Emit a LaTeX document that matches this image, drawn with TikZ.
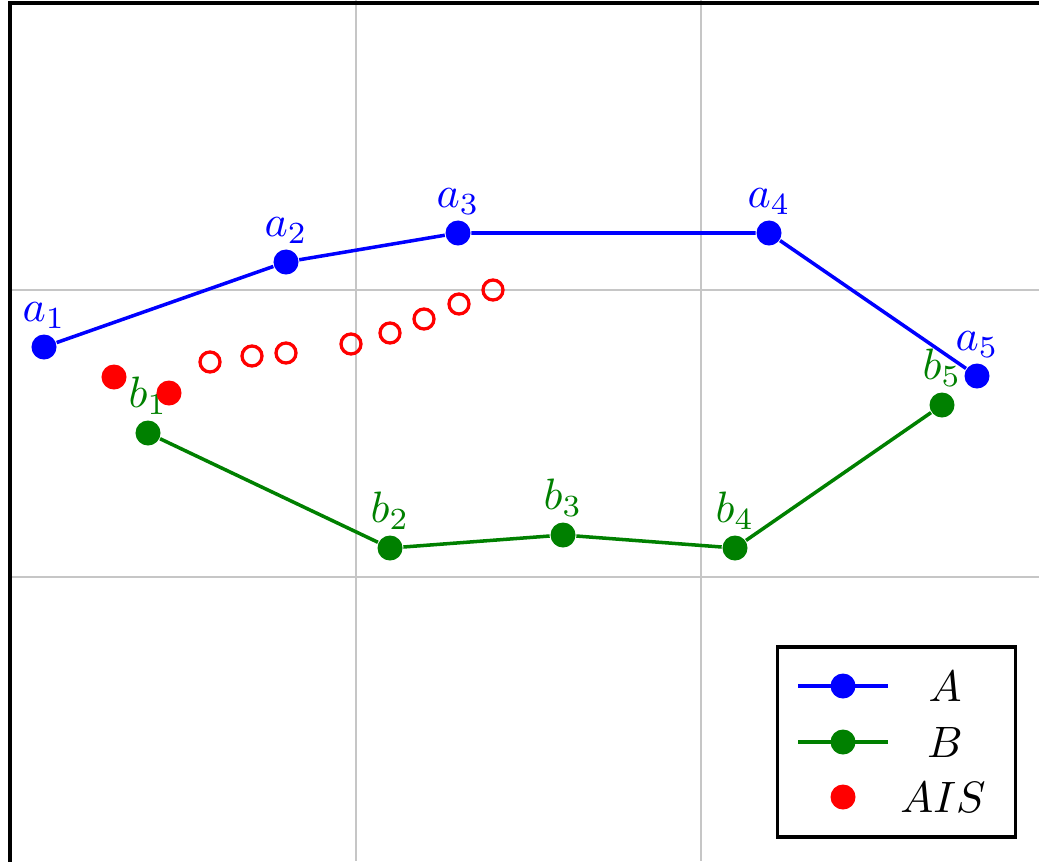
\documentclass[tikz,border=0pt]{standalone}
\usetikzlibrary{positioning}

\begin{document}
\begin{tikzpicture}[x=0.008cm,y=-0.008cm, every node/.style={font=\normalsize},
  adot/.style={circle,fill=blue,inner sep=0pt,minimum size=2mm,label={[blue,inner sep=1pt]above:#1}},
  bdot/.style={circle,fill=green!50!black,inner sep=0pt,minimum size=2mm,label={[green!50!black,inner sep=1pt]above:#1}},
  ais/.style={circle,fill=red,inner sep=0pt,minimum size=2mm},
  aisopen/.style={circle,draw=red,line width=0.75pt,inner sep=0pt,minimum size=1.6mm},
  gridline/.style={gray!45,line width=0.45pt}]
\useasboundingbox (0,0) rectangle (1039,861);
\clip (0,0) rectangle (1039,861);
% grid and frame
\draw[gridline] (356,0) -- (356,861) (701,0) -- (701,861);
\draw[gridline] (10,290) -- (1039,290) (10,577) -- (1039,577);
\draw[line width=0.9pt] (10,870) -- (10,3) -- (1045,3);
% route A
\node[adot={$a_1$}] (a1) at (44,347) {};
\node[adot={$a_2$}] (a2) at (286,262) {};
\node[adot={$a_3$}] (a3) at (458,233) {};
\node[adot={$a_4$}] (a4) at (769,233) {};
\node[adot={$a_5$}] (a5) at (977,376) {};
\draw[blue,line width=0.8pt] (a1)--(a2)--(a3)--(a4)--(a5);
% route B
\node[bdot={$b_1$}] (b1) at (148,433) {};
\node[bdot={$b_2$}] (b2) at (390,548) {};
\node[bdot={$b_3$}] (b3) at (563,535) {};
\node[bdot={$b_4$}] (b4) at (735,548) {};
\node[bdot={$b_5$}] (b5) at (942,405) {};
\draw[green!50!black,line width=0.8pt] (b1)--(b2)--(b3)--(b4)--(b5);
% AIS points
\node[ais] (s1) at (114,377) {};
\node[ais] (s2) at (169,393) {};
\foreach \x/\y [count=\i from 3] in {210/362,252/356,286/353,351/344,390/333,424/319,459/304,493/290}
  \node[aisopen] (s\i) at (\x,\y) {};
% legend
\node[draw,line width=0.8pt,fill=white,minimum width=1.9cm,minimum height=1.52cm] (leg) at (896.5,742) {};
\coordinate (la0) at (798,686); \coordinate (la1) at (888,686);
\coordinate (lb0) at (798,742); \coordinate (lb1) at (888,742);
\draw[blue,line width=0.8pt] (la0) -- (la1);
\draw[green!50!black,line width=0.8pt] (lb0) -- (lb1);
\node[circle,fill=blue,inner sep=0pt,minimum size=2mm] (lga) at (843,686) {};
\node[circle,fill=green!50!black,inner sep=0pt,minimum size=2mm] (lgb) at (843,742) {};
\node[ais] (lgs) at (843,797) {};
\node (ta) at (945,686) {$A$};
\node (tb) at (945,742) {$B$};
\node (ts) at (943,797) {$AIS$};
\end{tikzpicture}
\end{document}
